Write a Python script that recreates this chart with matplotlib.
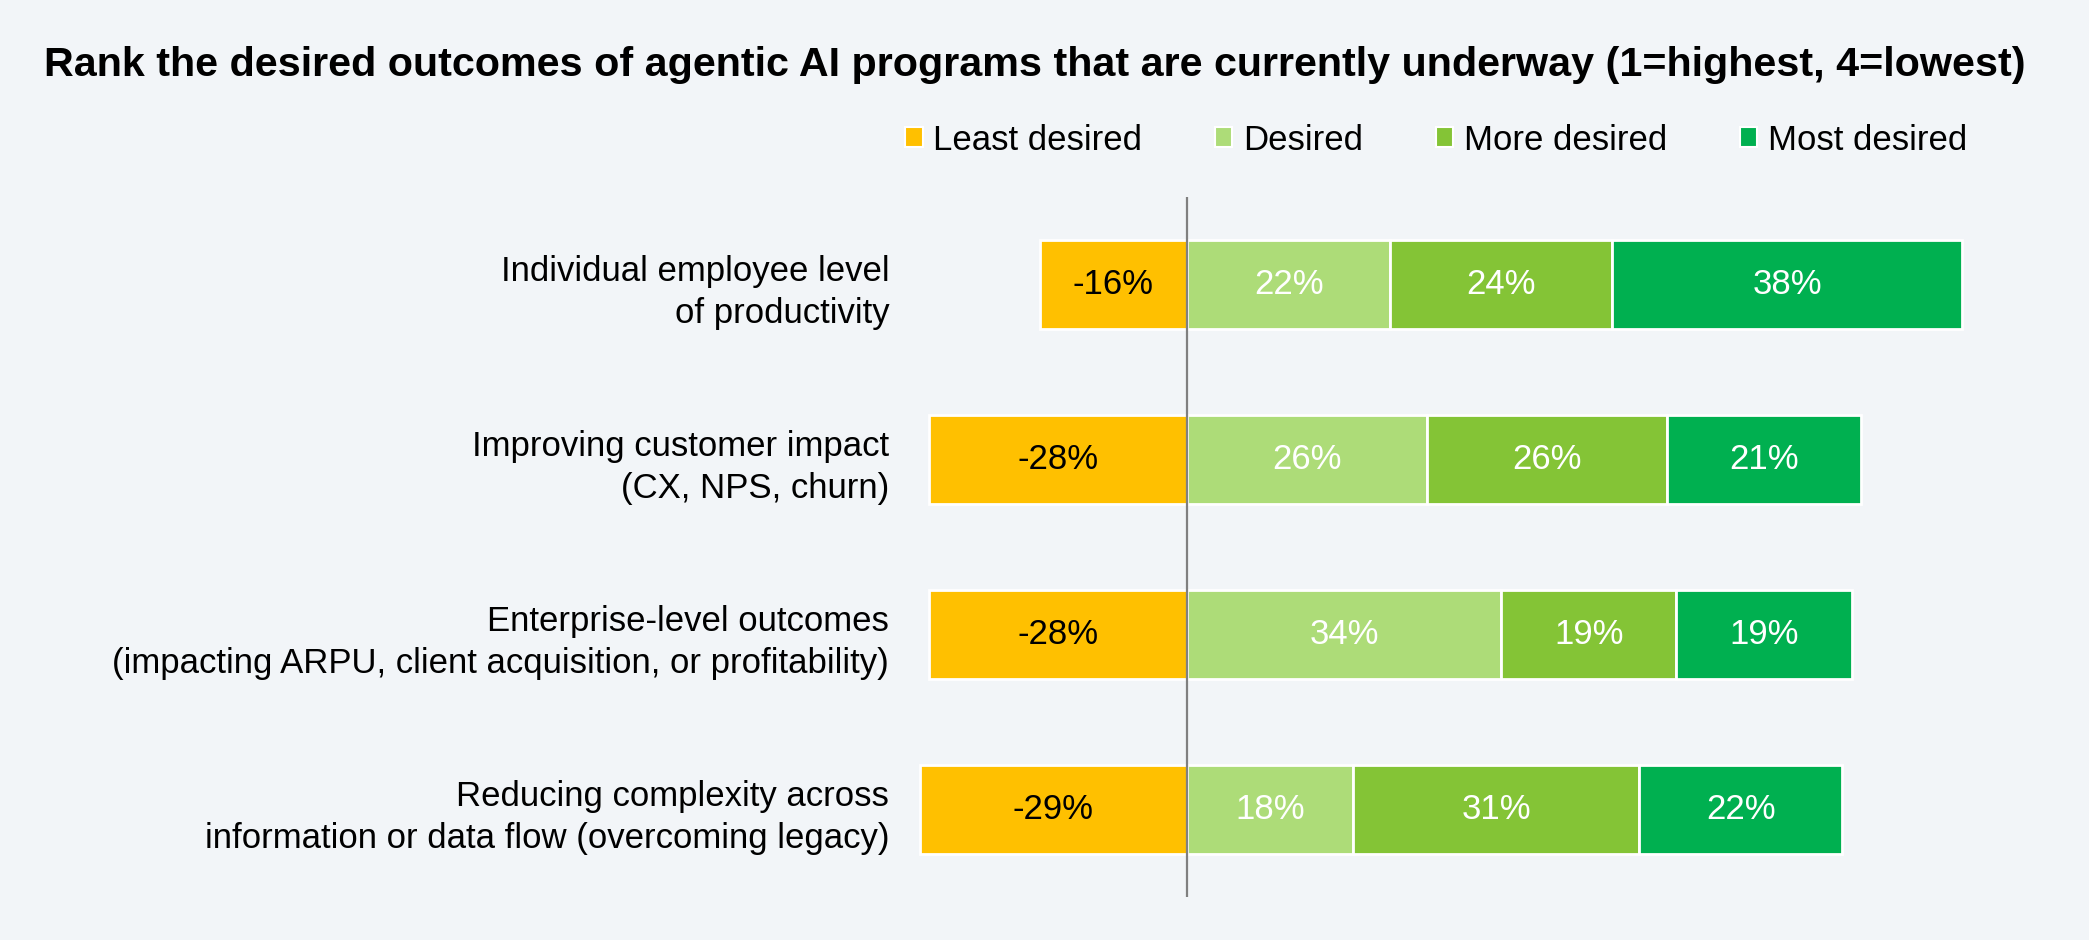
import matplotlib
matplotlib.use('Agg')
import matplotlib.pyplot as plt
import numpy as np

plt.rcParams['font.family'] = ['Liberation Sans', 'DejaVu Sans']

categories = ['Individual employee level\nof productivity',
              'Improving customer impact\n(CX, NPS, churn)',
              'Enterprise-level outcomes\n(impacting ARPU, client acquisition, or profitability)',
              'Reducing complexity across\ninformation or data flow (overcoming legacy)']
series = ['Least desired', 'Desired', 'More desired', 'Most desired']
least = [-16, -28, -28, -29]
desired = [22, 26, 34, 18]
more = [24, 26, 19, 31]
most = [38, 21, 19, 22]
colors = ['#FFC000', '#ADDC78', '#84C436', '#00B050']
bg = '#F2F5F8'

fig = plt.figure(figsize=(20.89, 9.4), dpi=100, facecolor=bg)
ax = fig.add_axes([0.427, 0.0457, 0.561, 0.745])
ax.set_facecolor(bg)

y = np.arange(len(categories))
h = 0.51
fs = 25

# negative part
ax.barh(y, least, height=h, color=colors[0], edgecolor='white', linewidth=2)
for yi, v in zip(y, least):
    ax.text(v / 2, yi, '%d%%' % v, ha='center', va='center', fontsize=fs, color='black')

left = np.zeros(len(categories))
for vals, c in zip([desired, more, most], colors[1:]):
    ax.barh(y, vals, left=left, height=h, color=c, edgecolor='white', linewidth=2)
    for yi, l, v in zip(y, left, vals):
        ax.text(l + v / 2, yi, '%d%%' % v, ha='center', va='center', fontsize=fs, color='white')
    left = left + np.array(vals)

ax.axvline(0, color='#808080', linewidth=1.6, zorder=5)
ax.set_xlim(-32, 95)
ax.set_ylim(3.5, -0.5)
ax.set_yticks(y)
ax.set_yticklabels(categories, fontsize=fs, ha='right', linespacing=1.35)
ax.tick_params(axis='y', length=0, pad=2)
ax.set_xticks([])
for s in ax.spines.values():
    s.set_visible(False)

fig.text(0.021, 0.931, 'Rank the desired outcomes of agentic AI programs that are currently underway (1=highest, 4=lowest)',
         fontsize=29.7, fontweight='bold', va='center', ha='left')

handles = [plt.Rectangle((0, 0), 1, 1, facecolor=c, edgecolor='white', linewidth=1.5) for c in colors]
leg = fig.legend(handles, series, loc='center right', bbox_to_anchor=(0.9415, 0.851), ncol=4,
                 frameon=False, fontsize=fs, handlelength=0.5, handleheight=0.5,
                 handletextpad=0.3, columnspacing=2.1, borderpad=0, borderaxespad=0)

fig.savefig('out.png', facecolor=bg)
